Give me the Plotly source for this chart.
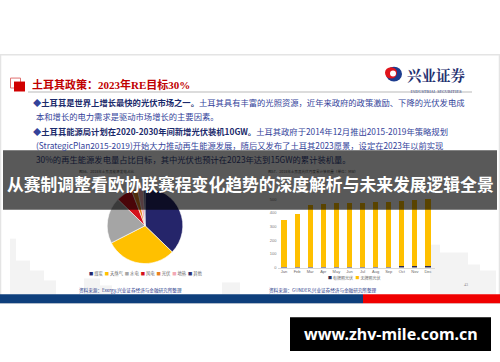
import plotly.graph_objects as go

W, H = 500, 362

# ---------------- data ----------------
pie_labels = ["煤炭", "天然气", "水电", "风电", "光伏", "地热", "其他"]
pie_values = [37.2, 30.3, 19.8, 6.9, 2.6, 2.5, 0.7]
pie_colors = ["#25256a", "#ffc000", "#a5a5a5", "#d4101c", "#e8801e", "#f3a8b4", "#303070"]

months = ["Jan", "Feb", "Mar", "Apr", "May", "Jun", "Jul", "Aug", "Sep", "Oct", "Nov", "Dec"]
licensed = [3, 3, 3, 3, 4, 4, 4, 5, 6, 11, 12, 12]
unlicensed = [347, 393, 459, 462, 468, 470, 470, 475, 476, 480, 484, 494]
bar_names = ["有牌照光伏", "无牌照光伏"]
bar_colors = ["#2b2b52", "#ffc000"]
y_ticks = [0, 100, 200, 300, 400, 500]

title_cn = "土耳其政策：2023年RE目标30%"
overlay_title = "从赛制调整看欧协联赛程变化趋势的深度解析与未来发展逻辑全景"
watermark = "www.zhv-mile.com.cn"


def px(x):
    return x / W


def py(y):
    return 1 - y / H


CJK = "Noto Sans CJK SC"

fig = go.Figure()

# pie
fig.add_trace(go.Pie(
    labels=pie_labels, values=pie_values, sort=False, direction="clockwise", rotation=0,
    marker=dict(colors=pie_colors, line=dict(color="white", width=0.6)),
    textinfo="none", hoverinfo="label+percent", showlegend=False,
    domain=dict(x=[px(107), px(183)], y=[py(265), py(189)]),
))

# stacked bars
for name, vals, col in zip(bar_names, [licensed, unlicensed], bar_colors):
    fig.add_trace(go.Bar(x=months, y=vals, name=name, marker=dict(color=col, line=dict(width=0)),
                         showlegend=False))

# page number placed in pixel space via an invisible full-page axis pair
fig.add_trace(go.Scatter(x=[466], y=[287], mode="text", text=["43"],
                         textposition="middle center",
                         textfont=dict(size=4, color="#888888", family="Liberation Serif"),
                         xaxis="x2", yaxis="y2", hoverinfo="skip", showlegend=False))

fig.update_layout(
    width=W, height=H, margin=dict(l=0, r=0, t=0, b=0),
    paper_bgcolor="white", plot_bgcolor="rgba(0,0,0,0)", showlegend=False,
    barmode="stack", bargap=0.6,
    xaxis=dict(domain=[px(277.5), px(434.5)], showgrid=False, zeroline=False, showline=True,
               linecolor="#d9d9d9", linewidth=0.6, ticks="", tickfont=dict(size=4, color="#666", family="Liberation Sans")),
    yaxis=dict(domain=[py(269), py(186.8)], range=[0, 600], tickvals=y_ticks, showgrid=False,
               zeroline=False, showline=False, ticks="", tickfont=dict(size=4, color="#777", family="Liberation Sans")),
    xaxis2=dict(domain=[0, 1], range=[0, W], visible=False, fixedrange=True),
    yaxis2=dict(domain=[0, 1], range=[H, 0], visible=False, fixedrange=True, anchor="x2"),
)

shapes = []
# slide border
shapes.append(dict(type="rect", xref="paper", yref="paper", x0=px(0.5), x1=px(499.5), y0=py(305), y1=py(55),
                   line=dict(color="#e4e4e4", width=1.5), fillcolor="rgba(0,0,0,0)", layer="below"))
# skyline (faint)
for (x0, x1, y0) in [(10, 16, 240), (16, 30, 262), (30, 44, 272), (44, 56, 282), (84, 100, 280),
                     (100, 112, 287), (222, 240, 284), (430, 440, 246), (440, 468, 254), (468, 480, 266), (480, 496, 272)]:
    shapes.append(dict(type="rect", xref="paper", yref="paper", x0=px(x0), x1=px(x1), y0=py(296), y1=py(y0),
                       line=dict(width=0), fillcolor="#f3f3f3", layer="below"))
# title icon
shapes.append(dict(type="rect", xref="paper", yref="paper", x0=px(10.5), x1=px(20.5), y0=py(88.5), y1=py(78.5),
                   line=dict(color="#e07070", width=1), fillcolor="rgba(0,0,0,0)"))
shapes.append(dict(type="rect", xref="paper", yref="paper", x0=px(14), x1=px(25), y0=py(92), y1=py(82),
                   line=dict(width=0), fillcolor="#d00000"))
# title divider
shapes.append(dict(type="line", xref="paper", yref="paper", x0=px(28), x1=px(472), y0=py(92.5), y1=py(92.5),
                   line=dict(color="#dcdcdc", width=2)))
# logo
shapes.append(dict(type="circle", xref="paper", yref="paper", x0=px(386), x1=px(402), y0=py(82), y1=py(67),
                   line=dict(width=0), fillcolor="#1c3c8e"))
shapes.append(dict(type="circle", xref="paper", yref="paper", x0=px(385), x1=px(397), y0=py(79), y1=py(67.5),
                   line=dict(width=0), fillcolor="#e0141c"))
shapes.append(dict(type="circle", xref="paper", yref="paper", x0=px(390), x1=px(396), y0=py(77), y1=py(71),
                   line=dict(width=0), fillcolor="white"))
# bottom bars
shapes.append(dict(type="rect", xref="paper", yref="paper", x0=0, x1=px(363), y0=py(305), y1=py(296),
                   line=dict(width=0), fillcolor="#0e3f7c"))
shapes.append(dict(type="rect", xref="paper", yref="paper", x0=px(363), x1=1, y0=py(305), y1=py(296),
                   line=dict(width=0), fillcolor="#f00000"))
# dark overlay band
shapes.append(dict(type="rect", xref="paper", yref="paper", x0=px(3), x1=px(497), y0=py(211), y1=py(151),
                   line=dict(width=0), fillcolor="rgba(0,0,0,0.65)", layer="above"))
# watermark box
shapes.append(dict(type="rect", xref="paper", yref="paper", x0=px(290), x1=px(491), y0=py(353), y1=py(319),
                   line=dict(width=0), fillcolor="black", layer="above"))
fig.update_layout(shapes=shapes)

ann = []


def text(x, y, s, size, color, family=CJK, anchor="left"):
    ann.append(dict(xref="paper", yref="paper", x=px(x), y=py(y), text=s, showarrow=False,
                    xanchor=anchor, yanchor="middle", font=dict(size=size, color=color, family=family),
                    borderpad=0))


NAVY = "#1b2a6b"
BLUE = "#34439a"
text(31, 85, "<b>" + title_cn + "</b>", 11, "#c00000", family="Liberation Serif, " + CJK)
# logo text with its English subtitle as a second line of the same annotation
text(436, 79, "<span style='font-size:14.5px'><b>兴业证券</b></span><br>"
     "<span style='font-size:4px'>INDUSTRIAL SECURITIES</span>", 9.2, "#1f2f6f",
     family="Noto Serif CJK SC, " + CJK, anchor="center")

b = "<span style='color:%s'><b>%s</b></span>"
text(32, 103, "◆" + b % (NAVY, "土耳其是世界上增长最快的光伏市场之一。") +
     "土耳其具有丰富的光照资源，近年来政府的政策激励、下降的光伏发电成", 8.3, BLUE)
text(35, 117, "本和增长的电力需求是驱动市场增长的主要因素。", 8.3, BLUE)
text(32, 132, "◆" + b % (NAVY, "土耳其能源局计划在2020-2030年间新增光伏装机10GW。") +
     "土耳其政府于2014年12月推出2015-2019年策略规划", 8.3, BLUE)
text(35, 146, "(StrategicPlan2015-2019)开始大力推动再生能源发展，随后又发布了土耳其2023愿景，设定在2023年以前实现", 8.3, BLUE)
# text under overlay (pre-darkened)
text(35, 160, "30%的再生能源发电量占比目标，其中光伏也预计在2023年达到15GW的累计装机量。", 8.3, "#10152e")
text(78, 172.5, "图56、2018年土耳其能源发电占比", 3.6, "#1a1a1a")
text(267, 172.5, "图57、2018年土耳其光伏月度累计装机量（单位：MW）", 3.6, "#1a1a1a")

# overlay title
text(250, 185, "<b>" + overlay_title + "</b>", 16.8, "white", anchor="center")

# pie legend
leg = "  ".join("<span style='color:%s'>■</span> %s" % (c, l) for l, c in zip(pie_labels, pie_colors))
text(146, 275, leg, 4.3, "#666", anchor="center")
# bar legend
leg2 = "   ".join("<span style='color:%s'>■</span> %s" % (c, l) for l, c in zip(bar_names, bar_colors))
text(354, 279.5, leg2, 4, "#666", anchor="center")

text(78, 292, "资料来源：Exergy,兴业证券经济与金融研究所整理", 4.6, "#2a3a8a")
text(268, 292, "资料来源：GUNDER,兴业证券经济与金融研究所整理", 4.6, "#2a3a8a")

text(390.5, 336, "<b>" + watermark + "</b>", 16, "white", family="Noto Sans", anchor="center")

fig.update_layout(annotations=ann)
fig.write_html("out.html", config={"displayModeBar": False})
